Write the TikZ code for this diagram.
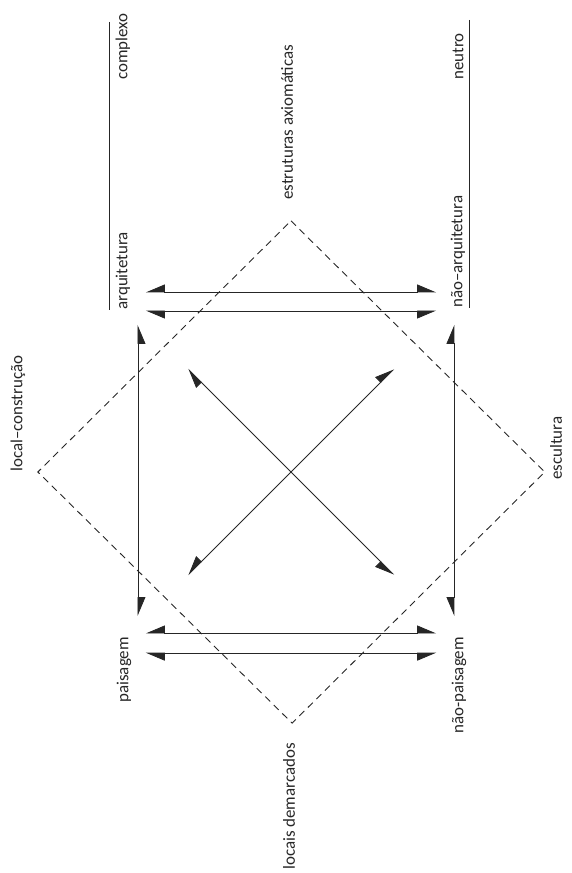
\documentclass[tikz,border=0pt]{standalone}
\usepackage{fontspec}
\setmainfont{Carlito}
\usetikzlibrary{arrows.meta}

\begin{document}
\begin{tikzpicture}[
    term/.style={font=\fontsize{17}{19}\selectfont, text=black!85, inner sep=0pt, rotate=90},
    bar/.style={line width=0.8pt, color=black!85},
    link/.style={line width=0.8pt, color=black!85},
    klein/.style={line width=0.9pt, color=black!85, dash pattern=on 7bp off 5bp},
    barbL/.tip={Triangle[length=18bp, width=15bp, left]},
    barbR/.tip={Triangle[length=18bp, width=15bp, right]},
    leftbarbs/.style={link, {barbR}-{barbL}},
    rightbarbs/.style={link, {barbL}-{barbR}}
]
\useasboundingbox (-291bp,-401bp) rectangle (281bp,472bp);

% labels
\node[term, anchor=west] (complexo) at (-5.93,13.83) {complexo};
\node[term, anchor=west] (arq) at (-5.93,5.72) {arquitetura};
\node[term, anchor=west] (neutro) at (5.89,13.83) {neutro};
\node[term, anchor=west] (naoarq) at (5.89,5.79) {não–arquitetura};
\node[term, anchor=west] (axiom) at (-0.14,9.6) {estruturas axiomáticas};
\node[term, anchor=west] (localc) at (-9.63,0) {local–construção};
\node[term, anchor=west] (escult) at (9.35,-0.28) {escultura};
\node[term, anchor=east] (pais) at (-5.89,-5.82) {paisagem};
\node[term, anchor=east] (naopais) at (5.93,-5.82) {não-paisagem};
\node[term, anchor=east] (locais) at (-0.07,-9.56) {locais demarcados};

% complex / neuter rules
\coordinate (cxtop) at (-6.39,15.88);
\coordinate (cxbot) at (-6.39,5.72);
\coordinate (nttop) at (6.31,15.95);
\coordinate (ntbot) at (6.31,5.79);
\draw[bar] (cxtop) -- (cxbot);
\draw[bar] (nttop) -- (ntbot);

% dashed diamond
\coordinate (N) at (0,8.86);
\coordinate (E) at (8.95,0);
\coordinate (S) at (0.04,-8.86);
\coordinate (W) at (-8.93,0);
\draw[klein] (N) -- (E) -- (S) -- (W) -- cycle;

% arrow end points
\coordinate (arq1) at (-5.12,6.35);
\coordinate (naoarq1) at (5.12,6.35);
\coordinate (arq2) at (-5.12,5.68);
\coordinate (naoarq2) at (5.12,5.68);
\coordinate (pais1) at (-5.12,-5.68);
\coordinate (naopais1) at (5.12,-5.68);
\coordinate (pais2) at (-5.12,-6.39);
\coordinate (naopais2) at (5.12,-6.39);
\coordinate (lefttop) at (-5.40,5.19);
\coordinate (leftbot) at (-5.40,-5.08);
\coordinate (righttop) at (5.75,5.19);
\coordinate (rightbot) at (5.75,-5.08);
\coordinate (nw) at (-3.63,3.63);
\coordinate (se) at (3.63,-3.63);
\coordinate (ne) at (3.63,3.63);
\coordinate (sw) at (-3.63,-3.63);

\draw[leftbarbs] (arq1) -- (naoarq1);
\draw[rightbarbs] (arq2) -- (naoarq2);
\draw[leftbarbs] (pais1) -- (naopais1);
\draw[rightbarbs] (pais2) -- (naopais2);
\draw[leftbarbs] (lefttop) -- (leftbot);
\draw[rightbarbs] (righttop) -- (rightbot);
\draw[rightbarbs] (nw) -- (se);
\draw[rightbarbs] (ne) -- (sw);
\end{tikzpicture}
\end{document}
